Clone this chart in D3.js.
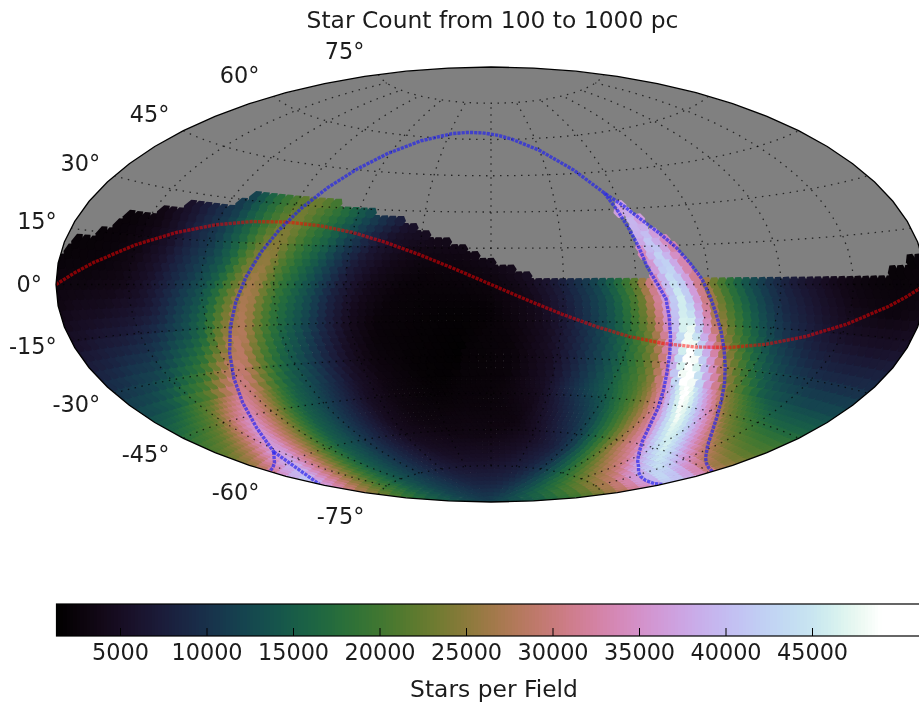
<!DOCTYPE html>
<html>
<head>
<meta charset="utf-8">
<title>Star Count from 100 to 1000 pc</title>
<script src="https://cdnjs.cloudflare.com/ajax/libs/d3/7.8.5/d3.min.js"></script>
<style>
html,body{margin:0;padding:0;background:#fff;overflow:hidden}
svg{display:block;filter:blur(0.55px)}
text{font-family:"DejaVu Sans",sans-serif;fill:#1c1c1c}
</style>
</head>
<body>
<svg id="chart" width="919" height="702"></svg>
<script>
// ---- text ----
const titleText = "Star Count from 100 to 1000 pc";
const colorbarLabel = "Stars per Field";
const latTicks = [75, 60, 45, 30, 15, 0, -15, -30, -45, -60, -75];
const lonGrid = [-150, -120, -90, -60, -30, 0, 30, 60, 90, 120, 150];
const barTicks = [5000, 10000, 15000, 20000, 25000, 30000, 35000, 40000, 45000];
const barDomain = [1300, 51560];

// ---- star counts (thousands), by galactic latitude (rows) and longitude (columns) ----
const galB = [-90,-70,-55,-45,-35,-30,-25,-20,-15,-10,-5,-2.5,0,5,10,15,20,25,30,35,45,55,70,90];
const countsL0   = [2,2.5,5,9,13,15,18,20.5,24.5,33,46,52,49,37,27,21.5,17,13.5,11,9,6.5,4.5,2.5,2];
const countsL30  = [2,2.5,5,8,11.5,13.5,16,19.7,23.7,31,38,43,46,37,27.5,22,18,14.7,12.5,10.5,6.3,4,2.5,2];
const countsL60  = [2,2.5,4,6.5,9.5,11,13,16,19.5,26,34,38,40,34,27,21,17,14,12,10,6,4,2.5,2];
const countsL90  = [2,2,3.5,5,7.5,9,11,13.5,17,21,27,31,33,28,22,17.5,14,12,10.5,9,6,4,2.5,2];
const countsL120 = [1.5,2,3,4,5.5,7,9,11.5,14,17,21,23,24,21,18,15,12.5,11,9.5,8,6,4,3,2];
const countsL150 = [1.5,2,2.5,3.8,5.5,8,10.5,13,16,19,21.5,22,22,19.5,17,15,12.5,10.5,9,8,6,4,3,2];
const countsL180 = [1.5,2,2.5,4,7,9.5,12,15,17.5,20,22.5,23.5,23,20.5,18,15.5,12,10.5,9,8,6,4,3,2];
const countsL210 = [1.5,2,2.5,4.5,8.5,11.2,13.7,15.8,18.5,22,26.5,26.5,25,20.5,15.5,13,11,9.5,8,6,3.5,2.5,2,2];
const countsL240 = [1.5,2,3.3,5.5,9.5,11.5,13.5,15.5,19,23.5,28.5,29,27,22,16.5,13.5,11.5,9,7,5.5,3.5,2.5,2,2];
const countsL270 = [1.5,2,3,4.5,8.5,10.5,13,15,19.5,25,30,33,36,30,23,19,14.5,12,10.5,8.5,5.5,3.5,2,2];
const countsL300 = [2,2.5,3.5,5.5,8.5,10.5,12,15,20,27,37,43,38,26,22,19,15.5,13,11,9,5.5,3,2,2];
const countsL330 = [2,2.5,3,5,8,11,16,22,28,33,44,47,44,35,25,20,15,12.5,10.5,8.5,5.5,3.5,2,2];
const countColumns = [countsL0,countsL30,countsL60,countsL90,countsL120,countsL150,
                      countsL180,countsL210,countsL240,countsL270,countsL300,countsL330];
const columnStep = 30;

// ---- northern edge of the surveyed area: map longitude, map latitude ----
const maskLon = [-180,-176,-168,-158,-146,-134,-117,-113,-101,-89,-74,-57,-41,-25,-13,-5,5,19,45,87,128,139,141,150,152,164,167,174,180];
const maskLat = [10,13,16,22,25,28,30,33,33,33,33,31,28,21,17.5,12,9,3,3,2.8,2.5,2.4,4.3,3.8,2,3.3,6,7.5,11];

// ---- ecliptic: map longitude, map latitude ----
const eclipticLon = [-180,-165,-150,-135,-120,-105,-90,-75,-60,-45,-30,-15,0,15,30,45,60,75,90,105,120,135,150,165,180];
const eclipticLat = [0,6.4,12.2,17,20.6,22.7,23.4,22.7,20.6,17,12.2,6.4,0,-6.4,-12.2,-17,-20.6,-22.7,-23.4,-22.7,-20.6,-17,-12.2,-6.4,0];

// ---- galactic-plane zone: galactic longitude with upper and lower galactic latitude ----
const planeL = [-78,-60,-45,-30,-15,0,15,30,45,60,75];
const planeUpperB = [0,3.5,6,8,9.5,10,10,10,7.5,3,0];
const planeLowerB = [0,-5,-6.5,-9.5,-10,-10,-8.5,-6.5,-7.5,-4,0];
const outerPlaneL = [75,100,120,140,160,180,200,220,240,260,282];

// ---- layout ----
const mapCx = 491, mapCy = 284.5, mapRx = 435;
const barX0 = 56.5, barX1 = 926, barY0 = 604, barY1 = 636;

const rad = Math.PI / 180, deg = 180 / Math.PI;
const NGP_RA = 192.859, NGP_DEC = 27.128, L_NCP = 122.932;

function galToMap(l, b) {
  const bb = b * rad, d = (L_NCP - l) * rad, dg = NGP_DEC * rad;
  const sinDec = Math.sin(bb) * Math.sin(dg) + Math.cos(bb) * Math.cos(dg) * Math.cos(d);
  const y = Math.cos(bb) * Math.sin(d);
  const x = Math.sin(bb) * Math.cos(dg) - Math.cos(bb) * Math.sin(dg) * Math.cos(d);
  const ra = Math.atan2(y, x) * deg + NGP_RA;
  let lon = -ra;
  lon = ((lon + 180) % 360 + 360) % 360 - 180;
  return [lon, Math.asin(sinDec) * deg];
}
function mapToGal(lon, lat) {
  const ra = -lon, da = (ra - NGP_RA) * rad, dec = lat * rad, dg = NGP_DEC * rad;
  const sinB = Math.sin(dec) * Math.sin(dg) + Math.cos(dec) * Math.cos(dg) * Math.cos(da);
  const y = Math.cos(dec) * Math.sin(da);
  const x = Math.sin(dec) * Math.cos(dg) - Math.cos(dec) * Math.sin(dg) * Math.cos(da);
  const l = L_NCP - Math.atan2(y, x) * deg;
  return [((l % 360) + 360) % 360, Math.asin(sinB) * deg];
}

// Aitoff projection through d3's projection machinery
function aitoffRaw(lambda, phi) {
  const c = Math.cos(phi), a = Math.acos(c * Math.cos(lambda / 2));
  const s = a === 0 ? 1 : Math.sin(a) / a;
  return [2 * c * Math.sin(lambda / 2) / s, Math.sin(phi) / s];
}
const projScale = mapRx / Math.PI;
const projection = d3.geoProjection(aitoffRaw).scale(projScale).translate([mapCx, mapCy]);
const cellProjection = d3.geoProjection(aitoffRaw).scale(projScale).translate([mapCx, mapCy]).precision(0);
const path = d3.geoPath(projection);
const cellPath = d3.geoPath(cellProjection);

const barX = d3.scaleLinear().domain(barDomain).range([barX0, barX1]);
// cubehelix, reaching full white just before the top of the range
const topT = (45000 - barDomain[0]) / (barDomain[1] - barDomain[0]);
const colorT = d3.scaleLinear().domain([barDomain[0], 45000, 49000]).range([0, topT, 1]).clamp(true);
const color = v => d3.interpolateCubehelixDefault(colorT(v));
const columnScales = countColumns.map(c => d3.scaleLinear().domain(galB).range(c));
const maskScale = d3.scaleLinear().domain(maskLon).range(maskLat).clamp(true);
const upperScale = d3.scaleLinear().domain(planeL).range(planeUpperB);
const lowerScale = d3.scaleLinear().domain(planeL).range(planeLowerB);

function countAt(l, b) {
  const i = Math.floor(l / columnStep) % countColumns.length;
  const j = (i + 1) % countColumns.length;
  const t = l / columnStep - Math.floor(l / columnStep);
  return 1000 * d3.interpolateNumber(columnScales[i](b), columnScales[j](b))(t);
}
function inSurvey(lon, lat) {
  if (lat <= maskScale(lon) - 1.3) return true;
  const g = mapToGal(lon, lat);
  const sl = g[0] > 180 ? g[0] - 360 : g[0];
  return sl > -78 && sl < 75 && g[1] < upperScale(sl) && g[1] > lowerScale(sl);
}

// Survey fields on a near-hexagonal lattice, finer in the far south where the projection stretches cells
const fields = [];
const rowSpecs = d3.range(-89.6, -36.5, 1.6).map(lat => ({lat, spacing: 1.6}))
  .concat(d3.range(-35.8, 65, 2.8).map(lat => ({lat, spacing: 2.8})));
rowSpecs.forEach((spec, row) => {
  const lat = spec.lat;
  const step = Math.min(spec.spacing * 1.18 / Math.max(Math.cos(lat * rad), 0.05), 60);
  const n = Math.round(360 / step);
  d3.range(n).forEach(k => {
    const lon = -180 + (k + (row % 2 ? 0.5 : 0)) * 360 / n;
    if (inSurvey(lon, lat)) {
      const g = mapToGal(lon, lat);
      fields.push({lon, lat, radius: spec.spacing * 0.84, value: countAt(g[0], g[1])});
    }
  });
});
const hex = d3.geoCircle().precision(60);

const svg = d3.select("#chart");
svg.append("defs").append("clipPath").attr("id", "sphere")
   .append("path").attr("d", path({type: "Sphere"}));

svg.append("text").attr("x", 492.5).attr("y", 20).attr("dy", "0.35em")
   .attr("text-anchor", "middle").style("font-size", "23.4px").text(titleText);

const mapG = svg.append("g").attr("clip-path", "url(#sphere)");
mapG.append("path").attr("d", path({type: "Sphere"})).attr("fill", "#808080");

mapG.append("g").selectAll("path").data(fields).join("path")
    .attr("d", d => cellPath(hex.center([d.lon, d.lat]).radius(d.radius)()))
    .attr("fill", d => color(d.value));

// Grid
const parallels = latTicks.map(lat => ({type: "LineString",
  coordinates: d3.range(-180, 180.01, 5).map(lon => [lon === 180 ? 179.999 : lon === -180 ? -179.999 : lon, lat])}));
const meridians = lonGrid.map(lon => ({type: "LineString",
  coordinates: d3.range(-75, 75.01, 5).map(lat => [lon, lat])}));
mapG.append("g").selectAll("path").data(parallels.concat(meridians)).join("path")
    .attr("d", path).attr("fill", "none").attr("stroke", "#000")
    .attr("stroke-width", 1.3).attr("stroke-dasharray", "1.5 5.5").attr("stroke-opacity", 0.7);

// Ecliptic
mapG.append("path")
    .attr("d", path({type: "LineString", coordinates: eclipticLon.map((lon, i) =>
        [lon === 180 ? 179.999 : lon === -180 ? -179.999 : lon, eclipticLat[i]])}))
    .attr("fill", "none").attr("stroke", "#ff0000").attr("stroke-opacity", 0.5)
    .attr("stroke-width", 3.4).attr("stroke-dasharray", "3.2 1");

// Galactic plane
const planeLines = [
  outerPlaneL.map(l => galToMap(l, 0)),
  planeL.map((l, i) => galToMap(l, planeUpperB[i])),
  planeL.map((l, i) => galToMap(l, planeLowerB[i]))
];
mapG.append("g").selectAll("path").data(planeLines).join("path")
    .attr("d", c => path({type: "LineString", coordinates: c}))
    .attr("fill", "none").attr("stroke", "#2222ee").attr("stroke-opacity", 0.68)
    .attr("stroke-width", 3.4).attr("stroke-dasharray", "3.2 1");

// Map frame
svg.append("path").attr("d", path({type: "Sphere"}))
   .attr("fill", "none").attr("stroke", "#000").attr("stroke-width", 1.3);

// Latitude labels
svg.append("g").selectAll("text").data(latTicks).join("text")
   .attr("x", d => projection([-179.999, d])[0] - 14)
   .attr("y", d => projection([-179.999, d])[1] - Math.sin(d * rad) * 23 - 1)
   .attr("dy", "0.36em").attr("text-anchor", "end")
   .style("font-size", "22.4px").text(d => d + "°");

// Colorbar
const barG = svg.append("g");
const levels = d3.range(256).map(i => barDomain[0] + (barDomain[1] - barDomain[0]) * (i + 0.5) / 256);
const stepW = (barX1 - barX0) / 256;
barG.selectAll("rect").data(levels).join("rect")
    .attr("x", d => barX(d) - stepW / 2).attr("y", barY0)
    .attr("width", stepW + 1).attr("height", barY1 - barY0)
    .attr("shape-rendering", "crispEdges")
    .attr("fill", d => color(d));
barG.append("rect").attr("x", barX0).attr("y", barY0)
    .attr("width", barX1 - barX0).attr("height", barY1 - barY0)
    .attr("fill", "none").attr("stroke", "#000").attr("stroke-width", 1.2);
barG.selectAll("line").data(barTicks).join("line")
    .attr("x1", d => barX(d)).attr("x2", d => barX(d))
    .attr("y1", barY1).attr("y2", barY1 - 8)
    .attr("stroke", "#000").attr("stroke-width", 1);
barG.selectAll("text.tick").data(barTicks).join("text").attr("class", "tick")
    .attr("x", d => barX(d)).attr("y", 652).attr("dy", "0.36em")
    .attr("text-anchor", "middle").style("font-size", "22.4px").text(d => d);
svg.append("text").attr("x", 494).attr("y", 689).attr("dy", "0.36em")
   .attr("text-anchor", "middle").style("font-size", "23.4px").text(colorbarLabel);
</script>
</body>
</html>
